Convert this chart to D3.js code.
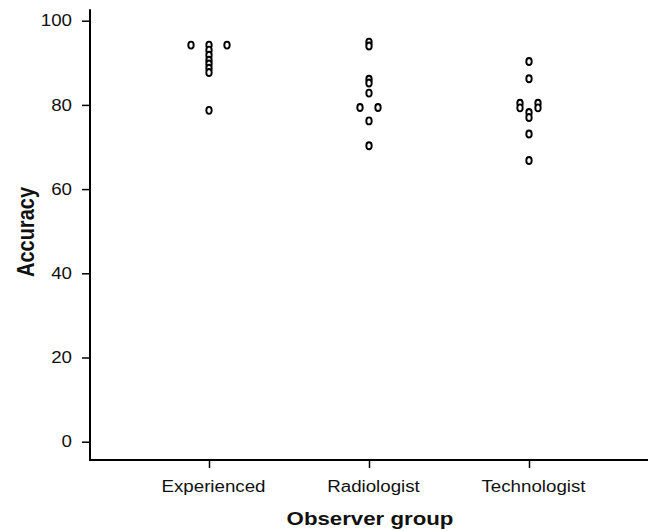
<!DOCTYPE html>
<html>
<head>
<meta charset="utf-8">
<script src="https://cdn.jsdelivr.net/npm/d3@7"></script>
<style>
  body { margin: 0; background: #fff; }
  svg { display: block; font-family: "Liberation Sans", Arial, sans-serif; }
</style>
</head>
<body>
<svg width="653" height="531"></svg>
<script>
// Observer accuracy dot plot

// Data
const groups = ["Experienced", "Radiologist", "Technologist"];
const experienced = [94.2, 94.2, 94.2, 93.0, 91.8, 90.6, 89.7, 88.7, 87.7, 78.7];
const radiologist = [94.9, 94.0, 86.1, 85.2, 82.8, 79.4, 79.4, 76.2, 70.3];
const technologist = [90.3, 86.2, 80.4, 80.4, 79.3, 79.3, 78.2, 77.0, 73.1, 66.8];
const yTicks = [0, 20, 40, 60, 80, 100];

const STRETCH = 1.17;   // the original image is a bit wider than tall
const SPREAD = 18;      // horizontal gap between tied values

const svg = d3.select("svg");

const x = d3.scalePoint().domain(groups).range([209, 529]);
const y = d3.scaleLinear().domain([0, 100]).range([441.7, 20.7]);

// Stretch a text horizontally by its own width
function widen(sel) {
    sel.each(function() {
        let w = this.getComputedTextLength();
        d3.select(this).attr("textLength", w * STRETCH).attr("lengthAdjust", "spacingAndGlyphs");
    });
}

// Axes
let yAxis = svg.append("g")
    .attr("transform", "translate(90,0)")
    .call(d3.axisLeft(y).tickValues(yTicks).tickSize(8).tickPadding(10).tickSizeOuter(0));
yAxis.select(".domain").remove();
yAxis.selectAll("line").attr("stroke", "#000").attr("stroke-width", 1.5);
yAxis.selectAll("text").attr("font-size", 16).attr("fill", "#111").call(widen);

let xAxis = svg.append("g")
    .attr("transform", "translate(0,460)")
    .call(d3.axisBottom(x).tickSize(8).tickPadding(13).tickSizeOuter(0));
xAxis.select(".domain").remove();
xAxis.selectAll("line").attr("stroke", "#000").attr("stroke-width", 1.5);
xAxis.selectAll("text").attr("font-size", 16).attr("fill", "#111")
    .attr("dx", 4)
    .call(widen);

// Axis lines (the frame goes a little past the data range)
svg.append("line")
    .attr("x1", 90).attr("x2", 90)
    .attr("y1", y(102.7)).attr("y2", 460)
    .attr("stroke", "#000").attr("stroke-width", 2);
svg.append("line")
    .attr("x1", 89).attr("x2", 648)
    .attr("y1", 460).attr("y2", 460)
    .attr("stroke", "#000").attr("stroke-width", 2);

// Titles
svg.append("text")
    .attr("x", 370).attr("y", 525)
    .attr("text-anchor", "middle")
    .attr("font-size", 19).attr("font-weight", "bold")
    .attr("fill", "#111")
    .text("Observer group")
    .call(widen);

svg.append("text")
    .attr("transform", "translate(34,232) scale(" + STRETCH + ",1) rotate(-90)")
    .attr("text-anchor", "middle")
    .attr("font-size", 20).attr("font-weight", "bold")
    .attr("fill", "#111")
    .text("Accuracy");

// Points: tied values are spread side by side
const series = [experienced, radiologist, technologist];
let points = [];
series.forEach(function(vals, gi) {
    let counts = d3.rollup(vals, v => v.length, d => d);
    let seen = new Map();
    vals.forEach(function(v) {
        let n = counts.get(v);
        let i = seen.get(v) || 0;
        seen.set(v, i + 1);
        points.push({group: groups[gi], value: v, offset: (i - (n - 1) / 2) * SPREAD});
    });
});

svg.append("g")
    .selectAll("ellipse")
    .data(points)
    .enter().append("ellipse")
    .attr("cx", d => x(d.group) + d.offset)
    .attr("cy", d => y(d.value))
    .attr("rx", 2.7)
    .attr("ry", 3.5)
    .attr("fill", "#fff")
    .attr("stroke", "#000")
    .attr("stroke-width", 1.9);
</script>
</body>
</html>
